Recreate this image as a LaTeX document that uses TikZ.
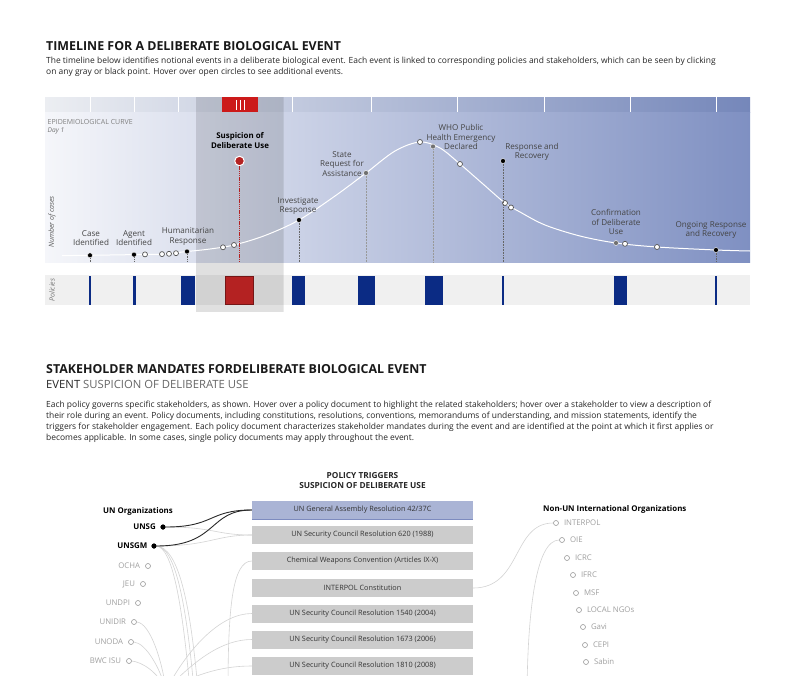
\documentclass[tikz,border=0pt]{standalone}
\usepackage{fontspec}
\setmainfont{Open Sans}
\definecolor{lbl}{HTML}{444444}
\definecolor{pol}{HTML}{0B2B84}
\definecolor{polred}{HTML}{B42222}
\definecolor{topred}{HTML}{CC1A1A}
\definecolor{bgL}{HTML}{F5F6FA}
\definecolor{bgM}{HTML}{C3CBE2}
\definecolor{bgR}{HTML}{7F90C2}
\definecolor{tbL}{HTML}{ECEEF2}
\definecolor{tbM}{HTML}{BAC3DC}
\definecolor{tbR}{HTML}{7587BA}
\definecolor{strip}{HTML}{F0F0F0}
\definecolor{boxg}{HTML}{CCCCCC}
\definecolor{boxb}{HTML}{AAB4D5}
\definecolor{boxbline}{HTML}{7D8BBF}
\definecolor{lineg}{HTML}{D4D4D4}
\definecolor{stkc}{HTML}{9A9A9A}
\definecolor{stkt}{HTML}{A0A0A0}
\definecolor{dotg}{HTML}{707070}
\definecolor{odraw}{HTML}{555555}
\definecolor{dropc}{HTML}{666666}
\definecolor{dropl}{HTML}{999999}
\definecolor{ptxt}{HTML}{333333}
\definecolor{blinkc}{HTML}{2A2A2A}
\begin{document}
\begin{tikzpicture}[x=1pt,y=-1pt,
  evlbl/.style={font=\fontsize{8.1}{9.6}\selectfont, text=lbl, align=center, inner sep=0pt},
  bdot/.style={circle, fill=black, draw=white, line width=0.4pt, minimum size=5pt, inner sep=0pt},
  gdot/.style={circle, fill=dotg, draw=white, line width=0.4pt, minimum size=5pt, inner sep=0pt},
  odot/.style={circle, fill=white, draw=odraw, line width=0.7pt, minimum size=5pt, inner sep=0pt},
  reddot/.style={circle, fill=polred, draw=white, line width=1pt, minimum size=9.5pt, inner sep=0pt},
  drop/.style={densely dotted, draw=dropc, line width=0.6pt},
  dropg/.style={densely dotted, draw=dropl, line width=0.5pt},
  pbox/.style={fill=boxg, minimum width=221pt, minimum height=18pt, inner sep=0pt, font=\fontsize{7.3}{8}\selectfont, text=ptxt},
  sfill/.style={circle, fill=black, minimum size=5pt, inner sep=0pt},
  sopen/.style={circle, draw=stkc, line width=0.6pt, fill=white, minimum size=5pt, inner sep=0pt},
  stkb/.style={font=\bfseries\fontsize{7.9}{9}\selectfont, text=black, inner sep=0pt},
  stkg/.style={font=\fontsize{7.8}{9}\selectfont, text=stkt, inner sep=0pt},
  glink/.style={draw=lineg, line width=0.6pt},
  blink/.style={draw=blinkc, line width=0.9pt},
  body/.style={font=\fontsize{8.45}{11}\selectfont, text=black!85, align=left, inner sep=0pt, anchor=base west},
  ttl/.style={font=\bfseries\fontsize{12.4}{14}\selectfont, text=black!90, inner sep=0pt, anchor=base west},
]
\useasboundingbox (0,0) rectangle (790,675);
\fill[white] (0,0) rectangle (790,675);

% ---------- header ----------
\node[ttl] (title1) at (46,50) {TIMELINE FOR A DELIBERATE BIOLOGICAL EVENT};
\node[body] (intro1) at (46,74) {The timeline below identifies notional events in a deliberate biological event. Each event is linked to corresponding policies and stakeholders, which can be seen by clicking\\on any gray or black point. Hover over open circles to see additional events.};

% ---------- chart backgrounds ----------
\shade[left color=tbL, middle color=tbM, right color=tbR] (45,97) rectangle (750,112);
\foreach \tx in {90,134,178,292,371,457,544,630,716}
  \draw[white, line width=0.8pt] (\tx,97) -- (\tx,112);
\shade[left color=bgL, middle color=bgM, right color=bgR] (45,112) rectangle (750,262);
\fill[strip] (45,275) rectangle (750,305);

\node[font=\fontsize{7}{8}\selectfont, text=black!50, anchor=base west, inner sep=0pt] (epi) at (47.5,124) {EPIDEMIOLOGICAL CURVE};
\node[font=\itshape\fontsize{6.6}{8}\selectfont, text=black!55, anchor=base west, inner sep=0pt] (day) at (47.5,132) {Day 1};
\node[font=\itshape\fontsize{7}{8}\selectfont, text=black!65, rotate=90, inner sep=0pt] (ncases) at (52,222) {Number of cases};
\node[font=\itshape\fontsize{7}{8}\selectfont, text=black!55, rotate=90, inner sep=0pt] (polL) at (52,290) {Policies};

% policy blocks
\foreach \a/\b in {89/91.2,133/135.6,181/195,292/305,358/375,425/443,502/504.2,614/627,715/717.2}
  \fill[pol] (\a,276) rectangle (\b,305);

% selected overlay
\fill[black, opacity=0.12] (196,97) rectangle (283,312);
\draw[black, opacity=0.08, line width=1pt] (283.5,97) -- (283.5,312);

\fill[polred] (225,276) rectangle (254,305);
\draw[black!35!polred, line width=0.6pt] (225.3,276.3) rectangle (253.7,304.7);
\fill[topred] (222,97) rectangle (258,112);
\foreach \tx in {236,240,244}
  \draw[white, line width=0.6pt] (\tx,100) -- (\tx,110);

% ---------- curve ----------
\coordinate (base) at (0,262);
\draw[white, line width=1pt] plot[smooth, tension=0.55] coordinates {(62,255.6) (90,255.3) (134,254.6) (162,254.1) (187,251.5) (210,249) (234,245) (265,235.5) (299,220) (335,196) (366,173) (395,151) (420,142) (440,148) (460,164) (483,184) (505,203) (520,212) (545,225) (580,236) (616,243) (657,247) (716,250) (750,251)};

% events
\node[bdot] (case) at (90,255.3) {};
\node[bdot] (agent) at (134,254.6) {};
\node[odot] (o1) at (145,254.4) {};
\node[odot] (o2) at (162,254.1) {};
\node[odot] (o3) at (169,253.8) {};
\node[odot] (o4) at (176,253.2) {};
\node[bdot] (hum) at (187,251.5) {};
\node[odot] (o5) at (223,247.3) {};
\node[odot] (o6) at (234,245) {};
\node[reddot] (susp) at (239.5,161) {};
\node[bdot] (inv) at (299,220) {};
\node[gdot] (state) at (366,173) {};
\node[odot] (o7) at (420,142) {};
\node[gdot] (who) at (433,146.5) {};
\node[odot] (o8) at (460,164) {};
\node[bdot] (resp) at (503,161) {};
\node[odot] (o9) at (505,203) {};
\node[odot] (o10) at (511,207.5) {};
\node[gdot] (conf) at (616,243) {};
\node[odot] (o11) at (625,243.8) {};
\node[odot] (o12) at (657,247) {};
\node[bdot] (ong) at (716,250) {};

\draw[drop] (case.south) -- (case |- base);
\draw[drop] (agent.south) -- (agent |- base);
\draw[drop] (hum.south) -- (hum |- base);
\draw[drop] (inv.south) -- (inv |- base);
\draw[dropg] (state.south) -- (state |- base);
\draw[dropg] (who.south) -- (who |- base);
\draw[drop] (resp.south) -- (resp |- base);
\draw[drop] (ong.south) -- (ong |- base);
\draw[polred, line width=1.3pt, dash pattern=on 1.3pt off 0.9pt] (susp.south) -- (susp |- base);

% labels
\node[evlbl] (caseL) at (91,238) {Case\\Identified};
\node[evlbl] (agentL) at (134,238) {Agent\\Identified};
\node[evlbl] (humL) at (188,236.5) {Humanitarian\\Response};
\node[evlbl, font=\bfseries\fontsize{7.9}{9.4}\selectfont, text=black] (suspL) at (240,140.5) {Suspicion of\\Deliberate Use};
\node[evlbl] (invL) at (298,206) {Investigate\\Response};
\node[evlbl] (stateL) at (342,164) {State\\Request for\\Assistance};
\node[evlbl] (whoL) at (461,137) {WHO Public\\Health Emergency\\Declared};
\node[evlbl] (respL) at (532,152) {Response and\\Recovery};
\node[evlbl] (confL) at (616,222) {Confirmation\\of Deliberate\\Use};
\node[evlbl] (ongL) at (711,230) {Ongoing Response\\and Recovery};

% ---------- stakeholder section ----------
\node[ttl] (title2) at (46,373) {STAKEHOLDER MANDATES FORDELIBERATE BIOLOGICAL EVENT};
\node[font=\fontsize{11.3}{13}\selectfont, anchor=base west, inner sep=0pt] (evt) at (46,388) {\textcolor{black!85}{EVENT} \textcolor{black!60}{SUSPICION OF DELIBERATE USE}};
\node[body] (para) at (46,440) {Each policy governs specific stakeholders, as shown. Hover over a policy document to highlight the related stakeholders; hover over a stakeholder to view a description of\\their role during an event. Policy documents, including constitutions, resolutions, conventions, memorandums of understanding, and mission statements, identify the\\triggers for stakeholder engagement. Each policy document characterizes stakeholder mandates during the event and are identified at the point at which it first applies or\\becomes applicable. In some cases, single policy documents may apply throughout the event.};

\node[font=\bfseries\fontsize{8.3}{10}\selectfont, align=center, text=black!85, inner sep=0pt] (ptrig) at (362.5,481) {POLICY TRIGGERS\\SUSPICION OF DELIBERATE USE};

% policy boxes
\node[pbox, fill=boxb] (p1) at (362.5,510) {UN General Assembly Resolution 42/37C};
\draw[boxbline, line width=0.8pt] (p1.south west) -- (p1.south east);
\node[pbox] (p2) at (362.5,535) {UN Security Council Resolution 620 (1988)};
\node[pbox] (p3) at (362.5,561) {Chemical Weapons Convention (Articles IX-X)};
\node[pbox] (p4) at (362.5,588) {INTERPOL Constitution};
\node[pbox] (p5) at (362.5,613.5) {UN Security Council Resolution 1540 (2004)};
\node[pbox] (p6) at (362.5,639.5) {UN Security Council Resolution 1673 (2006)};
\node[pbox] (p7) at (362.5,666) {UN Security Council Resolution 1810 (2008)};

% left column
\node[stkb, anchor=base west] (unorg) at (103,513) {UN Organizations};
\node[sfill] (unsg) at (163,527) {};
\node[stkb, anchor=east] (unsgT) at (156,527) {UNSG};
\node[sfill] (unsgm) at (154,546) {};
\node[stkb, anchor=east] (unsgmT) at (147.5,546) {UNSGM};
\foreach \n/\x/\y/\t in {ocha/148/566/OCHA, jeu/143/584/JEU, undpi/138/603/UNDPI, unidir/134/622/UNIDIR, unoda/131/642/UNODA, bwc/129/661/BWC ISU}
  {\node[sopen] (\n) at (\x,\y) {};
   \node[stkg, anchor=east] (\n T) at ([xshift=-5pt]\n.west) {\t};}

% right column
\node[stkb, anchor=base west] (nonun) at (543,511) {Non-UN International Organizations};
\foreach \n/\x/\y/\t in {interpol/556/523/INTERPOL, oie/562/540/OIE, icrc/567/558/ICRC, ifrc/573/575/IFRC, msf/576/593/MSF, ngo/579/610/LOCAL NGOs, gavi/583/627/Gavi, cepi/585/645/CEPI, sabin/586/662/Sabin}
  {\node[sopen] (\n) at (\x,\y) {};
   \node[stkg, anchor=west] (\n T) at ([xshift=5pt]\n.east) {\t};}

% connectors
\begin{scope}
\clip (0,0) rectangle (790,675);
\coordinate (bA) at (190,690);
\coordinate (bB) at (194,690);
\coordinate (bC) at (198,690);
\coordinate (bD) at (166,690);
\coordinate (bE) at (228,692);
\coordinate (bG) at (527,690);
\draw[glink] (unsg.east) .. controls (215,527) and (215,535) .. (p2.west);
\draw[glink] (unsgm.east) .. controls (210,546) and (215,535) .. (p2.west);
\draw[glink] (unsgm.east) .. controls (172,548) and (182,600) .. (bA);
\draw[glink] (unsgm.east) .. controls (175,548) and (186,600) .. (bB);
\draw[glink] (unsgm.east) .. controls (178,548) and (190,600) .. (bC);
\draw[glink] (unidir.east) .. controls (150,623) and (162,660) .. (bD);
\draw[glink] (unoda.east) .. controls (146,643) and (160,668) .. (bD);
\draw[glink] (bwc.east) .. controls (142,662) and (158,672) .. (bD);
\draw[glink] (bD) .. controls (190,645) and (222,613.5) .. (p5.west);
\draw[glink] (bD) .. controls (195,660) and (222,639.5) .. (p6.west);
\draw[glink] (bD) .. controls (200,672) and (225,666) .. (p7.west);
\draw[glink] (bE) .. controls (228,610) and (232,561) .. (p3.west);
\draw[glink] (p4.east) .. controls (522,588) and (512,523) .. (interpol.west);
\draw[glink] (oie.west) .. controls (536,540) and (528,610) .. (bG);
\draw[blink] (unsg.east) .. controls (215,527) and (208,510) .. (p1.west);
\draw[blink] (unsgm.east) .. controls (218,546) and (208,510) .. (p1.west);
\end{scope}
\node[sfill] at (unsg) {};
\node[sfill] at (unsgm) {};
\end{tikzpicture}
\end{document}
